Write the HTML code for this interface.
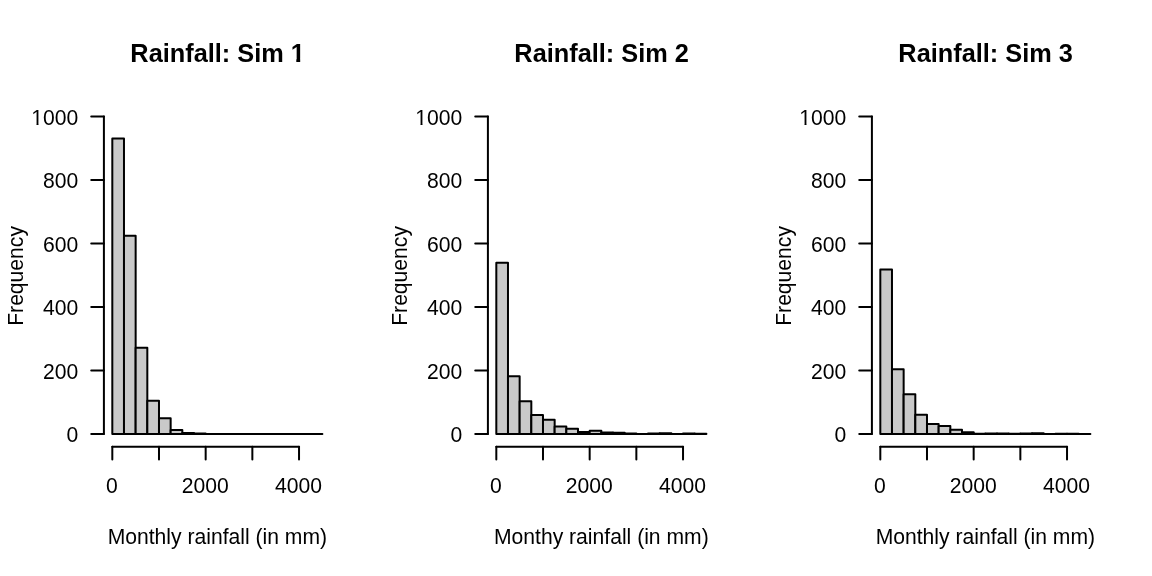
<!DOCTYPE html>
<html><head><meta charset="utf-8"><title>Rainfall simulations</title>
<style>
html,body{margin:0;padding:0;background:#fff;}
svg{display:block;}
text{font-family:"Liberation Sans",sans-serif;fill:#000;}
.t{font-size:21.12px;}
.m{font-size:25.34px;font-weight:bold;}
.ln{stroke:#000;stroke-width:2;fill:none;stroke-linecap:round;}
.bar{fill:#c9c9c9;stroke:#000;stroke-width:2;stroke-linejoin:round;stroke-linecap:round;}
</style></head><body>
<svg width="1152" height="576" viewBox="0 0 1152 576">
<rect width="1152" height="576" fill="#fff"/>
<g transform="translate(0,0)">
<path class="bar" d="M112.31 434.05V138.51H123.98V434.05Z"/>
<path class="bar" d="M123.98 434.05V235.65H135.65V434.05Z"/>
<path class="bar" d="M135.65 434.05V347.70H147.32V434.05Z"/>
<path class="bar" d="M147.32 434.05V400.72H158.99V434.05Z"/>
<path class="bar" d="M158.99 434.05V418.18H170.66V434.05Z"/>
<path class="bar" d="M170.66 434.05V430.08H182.33V434.05Z"/>
<path class="bar" d="M182.33 434.05V432.94H194.00V434.05Z"/>
<path class="bar" d="M194.00 434.05V433.57H205.67V434.05Z"/>
<path class="bar" d="M205.67 434.05V434.05H217.34V434.05Z"/>
<path class="bar" d="M217.34 434.05V434.05H229.01V434.05Z"/>
<path class="bar" d="M229.01 434.05V434.05H240.68V434.05Z"/>
<path class="bar" d="M240.68 434.05V434.05H252.35V434.05Z"/>
<path class="bar" d="M252.35 434.05V434.05H264.02V434.05Z"/>
<path class="bar" d="M264.02 434.05V434.05H275.69V434.05Z"/>
<path class="bar" d="M275.69 434.05V434.05H287.36V434.05Z"/>
<path class="bar" d="M287.36 434.05V434.05H299.03V434.05Z"/>
<path class="bar" d="M299.03 434.05V434.05H310.70V434.05Z"/>
<path class="bar" d="M310.70 434.05V434.05H322.38V434.05Z"/>
<path class="ln" d="M112.31 446.75H299.03"/>
<path class="ln" d="M112.31 446.75v12.67"/>
<path class="ln" d="M158.99 446.75v12.67"/>
<path class="ln" d="M205.67 446.75v12.67"/>
<path class="ln" d="M252.35 446.75v12.67"/>
<path class="ln" d="M299.03 446.75v12.67"/>
<text class="t" transform="translate(111.81,493.26) scale(1,1.07)" text-anchor="middle">0</text>
<text class="t" transform="translate(205.17,493.26) scale(1,1.07)" text-anchor="middle">2000</text>
<text class="t" transform="translate(298.53,493.26) scale(1,1.07)" text-anchor="middle">4000</text>
<path class="ln" d="M103.91 434.05V116.61"/>
<path class="ln" d="M103.91 434.05h-12.67"/>
<text class="t" transform="translate(78.17,442.35) scale(1,1.07)" text-anchor="end">0</text>
<path class="ln" d="M103.91 370.56h-12.67"/>
<text class="t" transform="translate(78.17,378.86) scale(1,1.07)" text-anchor="end">200</text>
<path class="ln" d="M103.91 307.07h-12.67"/>
<text class="t" transform="translate(78.17,315.37) scale(1,1.07)" text-anchor="end">400</text>
<path class="ln" d="M103.91 243.58h-12.67"/>
<text class="t" transform="translate(78.17,251.88) scale(1,1.07)" text-anchor="end">600</text>
<path class="ln" d="M103.91 180.10h-12.67"/>
<text class="t" transform="translate(78.17,188.40) scale(1,1.07)" text-anchor="end">800</text>
<path class="ln" d="M103.91 116.61h-12.67"/>
<text class="t" transform="translate(78.17,124.91) scale(1,1.07)" text-anchor="end">1000</text>
<text class="m" x="217.64" y="61.86" text-anchor="middle">Rainfall: Sim 1</text>
<text class="t" transform="translate(217.34,543.65) scale(1,1.06)" text-anchor="middle">Monthly rainfall (in mm)</text>
<text class="t" transform="translate(22.56,275.93) rotate(-90) scale(1,1.06)" text-anchor="middle">Frequency</text>
<rect x="31.4" y="123" width="5.1" height="2.6" fill="#fff"/><rect x="38.5" y="123" width="4.2" height="2.6" fill="#fff"/>
<rect x="291.4" y="58.8" width="4.9" height="3.6" fill="#fff"/><rect x="300.2" y="58.8" width="5.3" height="3.6" fill="#fff"/>
</g>
<g transform="translate(384,0)">
<path class="bar" d="M112.31 434.05V262.63H123.98V434.05Z"/>
<path class="bar" d="M123.98 434.05V376.27H135.65V434.05Z"/>
<path class="bar" d="M135.65 434.05V401.35H147.32V434.05Z"/>
<path class="bar" d="M147.32 434.05V415.00H158.99V434.05Z"/>
<path class="bar" d="M158.99 434.05V419.76H170.66V434.05Z"/>
<path class="bar" d="M170.66 434.05V426.59H182.33V434.05Z"/>
<path class="bar" d="M182.33 434.05V428.65H194.00V434.05Z"/>
<path class="bar" d="M194.00 434.05V432.08H205.67V434.05Z"/>
<path class="bar" d="M205.67 434.05V430.87H217.34V434.05Z"/>
<path class="bar" d="M217.34 434.05V432.46H229.01V434.05Z"/>
<path class="bar" d="M229.01 434.05V432.78H240.68V434.05Z"/>
<path class="bar" d="M240.68 434.05V433.41H252.35V434.05Z"/>
<path class="bar" d="M252.35 434.05V433.92H264.02V434.05Z"/>
<path class="bar" d="M264.02 434.05V433.41H275.69V434.05Z"/>
<path class="bar" d="M275.69 434.05V433.22H287.36V434.05Z"/>
<path class="bar" d="M287.36 434.05V433.92H299.03V434.05Z"/>
<path class="bar" d="M299.03 434.05V433.41H310.70V434.05Z"/>
<path class="bar" d="M310.70 434.05V433.73H322.38V434.05Z"/>
<path class="ln" d="M112.31 446.75H299.03"/>
<path class="ln" d="M112.31 446.75v12.67"/>
<path class="ln" d="M158.99 446.75v12.67"/>
<path class="ln" d="M205.67 446.75v12.67"/>
<path class="ln" d="M252.35 446.75v12.67"/>
<path class="ln" d="M299.03 446.75v12.67"/>
<text class="t" transform="translate(111.81,493.26) scale(1,1.07)" text-anchor="middle">0</text>
<text class="t" transform="translate(205.17,493.26) scale(1,1.07)" text-anchor="middle">2000</text>
<text class="t" transform="translate(298.53,493.26) scale(1,1.07)" text-anchor="middle">4000</text>
<path class="ln" d="M103.91 434.05V116.61"/>
<path class="ln" d="M103.91 434.05h-12.67"/>
<text class="t" transform="translate(78.17,442.35) scale(1,1.07)" text-anchor="end">0</text>
<path class="ln" d="M103.91 370.56h-12.67"/>
<text class="t" transform="translate(78.17,378.86) scale(1,1.07)" text-anchor="end">200</text>
<path class="ln" d="M103.91 307.07h-12.67"/>
<text class="t" transform="translate(78.17,315.37) scale(1,1.07)" text-anchor="end">400</text>
<path class="ln" d="M103.91 243.58h-12.67"/>
<text class="t" transform="translate(78.17,251.88) scale(1,1.07)" text-anchor="end">600</text>
<path class="ln" d="M103.91 180.10h-12.67"/>
<text class="t" transform="translate(78.17,188.40) scale(1,1.07)" text-anchor="end">800</text>
<path class="ln" d="M103.91 116.61h-12.67"/>
<text class="t" transform="translate(78.17,124.91) scale(1,1.07)" text-anchor="end">1000</text>
<text class="m" x="217.64" y="61.86" text-anchor="middle">Rainfall: Sim 2</text>
<text class="t" transform="translate(217.34,543.65) scale(1,1.06)" text-anchor="middle">Monthy rainfall (in mm)</text>
<text class="t" transform="translate(22.56,275.93) rotate(-90) scale(1,1.06)" text-anchor="middle">Frequency</text>
<rect x="31.4" y="123" width="5.1" height="2.6" fill="#fff"/><rect x="38.5" y="123" width="4.2" height="2.6" fill="#fff"/>
</g>
<g transform="translate(768,0)">
<path class="bar" d="M112.31 434.05V269.61H123.98V434.05Z"/>
<path class="bar" d="M123.98 434.05V369.29H135.65V434.05Z"/>
<path class="bar" d="M135.65 434.05V394.37H147.32V434.05Z"/>
<path class="bar" d="M147.32 434.05V414.68H158.99V434.05Z"/>
<path class="bar" d="M158.99 434.05V423.89H170.66V434.05Z"/>
<path class="bar" d="M170.66 434.05V426.11H182.33V434.05Z"/>
<path class="bar" d="M182.33 434.05V429.76H194.00V434.05Z"/>
<path class="bar" d="M194.00 434.05V432.30H205.67V434.05Z"/>
<path class="bar" d="M205.67 434.05V433.73H217.34V434.05Z"/>
<path class="bar" d="M217.34 434.05V433.41H229.01V434.05Z"/>
<path class="bar" d="M229.01 434.05V433.57H240.68V434.05Z"/>
<path class="bar" d="M240.68 434.05V433.73H252.35V434.05Z"/>
<path class="bar" d="M252.35 434.05V433.57H264.02V434.05Z"/>
<path class="bar" d="M264.02 434.05V433.16H275.69V434.05Z"/>
<path class="bar" d="M275.69 434.05V434.05H287.36V434.05Z"/>
<path class="bar" d="M287.36 434.05V433.73H299.03V434.05Z"/>
<path class="bar" d="M299.03 434.05V433.73H310.70V434.05Z"/>
<path class="bar" d="M310.70 434.05V433.95H322.38V434.05Z"/>
<path class="ln" d="M112.31 446.75H299.03"/>
<path class="ln" d="M112.31 446.75v12.67"/>
<path class="ln" d="M158.99 446.75v12.67"/>
<path class="ln" d="M205.67 446.75v12.67"/>
<path class="ln" d="M252.35 446.75v12.67"/>
<path class="ln" d="M299.03 446.75v12.67"/>
<text class="t" transform="translate(111.81,493.26) scale(1,1.07)" text-anchor="middle">0</text>
<text class="t" transform="translate(205.17,493.26) scale(1,1.07)" text-anchor="middle">2000</text>
<text class="t" transform="translate(298.53,493.26) scale(1,1.07)" text-anchor="middle">4000</text>
<path class="ln" d="M103.91 434.05V116.61"/>
<path class="ln" d="M103.91 434.05h-12.67"/>
<text class="t" transform="translate(78.17,442.35) scale(1,1.07)" text-anchor="end">0</text>
<path class="ln" d="M103.91 370.56h-12.67"/>
<text class="t" transform="translate(78.17,378.86) scale(1,1.07)" text-anchor="end">200</text>
<path class="ln" d="M103.91 307.07h-12.67"/>
<text class="t" transform="translate(78.17,315.37) scale(1,1.07)" text-anchor="end">400</text>
<path class="ln" d="M103.91 243.58h-12.67"/>
<text class="t" transform="translate(78.17,251.88) scale(1,1.07)" text-anchor="end">600</text>
<path class="ln" d="M103.91 180.10h-12.67"/>
<text class="t" transform="translate(78.17,188.40) scale(1,1.07)" text-anchor="end">800</text>
<path class="ln" d="M103.91 116.61h-12.67"/>
<text class="t" transform="translate(78.17,124.91) scale(1,1.07)" text-anchor="end">1000</text>
<text class="m" x="217.64" y="61.86" text-anchor="middle">Rainfall: Sim 3</text>
<text class="t" transform="translate(217.34,543.65) scale(1,1.06)" text-anchor="middle">Monthly rainfall (in mm)</text>
<text class="t" transform="translate(22.56,275.93) rotate(-90) scale(1,1.06)" text-anchor="middle">Frequency</text>
<rect x="31.4" y="123" width="5.1" height="2.6" fill="#fff"/><rect x="38.5" y="123" width="4.2" height="2.6" fill="#fff"/>
</g>
</svg></body></html>
